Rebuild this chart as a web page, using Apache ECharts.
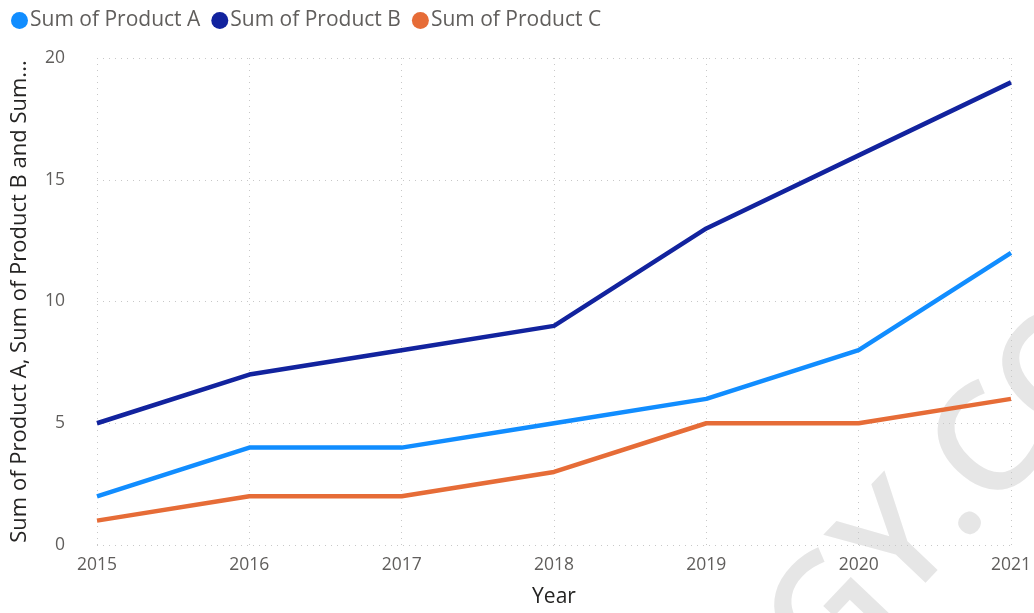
<!DOCTYPE html>
<html lang="en">
<head>
    <meta charset="UTF-8">
    <title>Products by Year</title>
    <script src="https://cdn.jsdelivr.net/npm/echarts@6/dist/echarts.min.js"></script>
    <style>
        html, body { margin: 0; padding: 0; background: #fff; }
    </style>
</head>
<body>
    <div id="main" style="width: 1034px; height: 613px;"></div>
    <script type="text/javascript">
        var years = ['2015', '2016', '2017', '2018', '2019', '2020', '2021'];
        var productA = [2, 4, 4, 5, 6, 8, 12];
        var productB = [5, 7, 8, 9, 13, 16, 19];
        var productC = [1, 2, 2, 3, 5, 5, 6];

        var font = '"Open Sans", "Noto Sans", sans-serif';
        var myChart = echarts.init(document.getElementById('main'));

        function line(name, data, color) {
            return {
                name: name,
                type: 'line',
                data: data,
                symbol: 'none',
                lineStyle: { width: 4.5, color: color },
                itemStyle: { color: color }
            };
        }

        var option = {
            animation: false,
            legend: {
                left: 6,
                top: 5,
                icon: 'circle',
                itemWidth: 17,
                itemHeight: 17,
                itemGap: 11,
                textStyle: { fontFamily: font, fontSize: 21, color: '#605e5c', padding: [0, 0, 0, -3] }
            },
            // faint watermark behind the plot
            graphic: [{
                type: 'text',
                x: 795,
                y: 658,
                rotation: 46.5 * Math.PI / 180,
                silent: true,
                z: -10,
                style: {
                    text: 'GY.CO',
                    fontFamily: font,
                    fontSize: 150,
                    fontWeight: 600,
                    fill: '#e6e6e6',
                    align: 'left',
                    verticalAlign: 'middle'
                }
            }],
            grid: { left: 97, right: 22, top: 58, bottom: 67 },
            xAxis: {
                type: 'category',
                data: years,
                boundaryGap: false,
                name: 'Year',
                nameLocation: 'middle',
                nameGap: 42,
                nameTextStyle: { fontFamily: font, fontSize: 21, color: '#252423' },
                axisLine: { show: false },
                axisTick: { show: false },
                axisLabel: { fontFamily: font, fontSize: 17.5, color: '#605e5c', margin: 11 },
                splitLine: { show: true, lineStyle: { type: [1, 5], color: '#c8c8c8' } }
            },
            yAxis: {
                type: 'value',
                min: 0,
                max: 20,
                interval: 5,
                name: 'Sum of Product A, Sum of Product B and Sum...',
                nameLocation: 'middle',
                nameGap: 66,
                nameTextStyle: { fontFamily: font, fontSize: 22, color: '#252423' },
                axisLabel: { fontFamily: font, fontSize: 17.5, color: '#605e5c', margin: 32 },
                splitLine: { lineStyle: { type: [1, 5], color: '#c8c8c8' } }
            },
            series: [
                line('Sum of Product A', productA, '#118dff'),
                line('Sum of Product B', productB, '#12239e'),
                line('Sum of Product C', productC, '#e66c37')
            ]
        };

        myChart.setOption(option);
    </script>
</body>
</html>
